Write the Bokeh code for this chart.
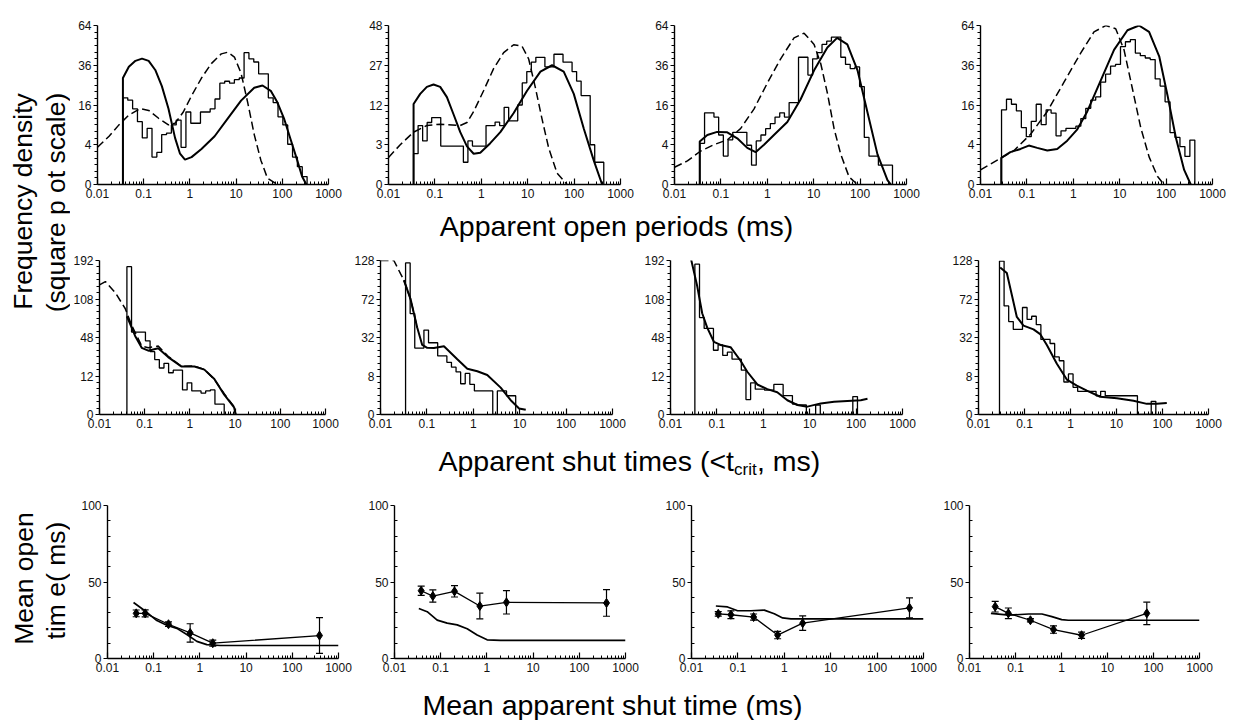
import numpy as np
from bokeh.plotting import figure
from bokeh.layouts import row, column
from bokeh.models import Range1d, FixedTicker, Whisker, TeeHead, ColumnDataSource
from bokeh.embed import file_html
from bokeh.resources import INLINE
from bokeh.core.properties import value

FONT = "Liberation Sans"

# ---------------- tick values ----------------
X_TICKS = [0.01, 0.1, 1, 10, 100, 1000]
X_TICK_LABELS = ["0.01", "0.1", "1", "10", "100", "1000"]
Y_TICKS_64 = [0, 4, 16, 36, 64]
Y_TICKS_48 = [0, 3, 12, 27, 48]
Y_TICKS_192 = [0, 12, 48, 108, 192]
Y_TICKS_128 = [0, 8, 32, 72, 128]
Y_TICKS_100 = [0, 50, 100]

# ---------------- row 1: apparent open periods ----------------
p1_hist_lo, p1_hist_hi = 0.0355, 344
p1_hist = [19, 18, 14.5, 10, 5.5, 8, 1.9, 2.6, 6.3, 6.7, 9, 10.5, 3.5, 13.3, 9.5, 9.5, 13.3, 13.3,
           14.5, 18.5, 26, 27, 26, 27.8, 28.7, 44, 40, 38, 31, 31, 19, 17, 11.6, 9, 4.1, 1.9, 0.8, 0.16]
p1_fit_x = [0.0355, 0.0355, 0.0477, 0.0663, 0.092, 0.128, 0.178, 0.247, 0.343, 0.477, 0.611, 0.782,
            1.086, 1.78, 3.43, 6.63, 12.8, 24.7, 37.3, 56.2, 78.1, 108.6, 151, 210, 268, 332]
p1_fit_y = [0, 28.7, 35.1, 38.7, 40.1, 38.7, 33.2, 24.5, 14.6, 5.5, 2.4, 1.56, 1.9, 3.2, 5.9, 11.1,
            17.8, 23.7, 24.8, 22.2, 17.1, 11.1, 5.2, 1.5, 0.16, 0]
p1_dash_x = [0.01, 0.0178, 0.0291, 0.0477, 0.0849, 0.128, 0.21, 0.343, 0.477, 0.72, 1.086, 1.78,
             2.91, 4.77, 6.63, 9.2, 12.8, 17.8, 24.7, 34.3, 47.7, 78.1]
p1_dash_y = [3.5, 5.9, 9.0, 12.2, 14.6, 13.9, 11.1, 9.0, 9.5, 13.3, 19.9, 28.7, 37, 43.2, 44.3, 41.1,
             31.4, 17.1, 6.3, 1.5, 0.1, 0]

p2_hist_lo, p2_hist_hi = 0.0347, 436
p2_hist = [1.8, 6.6, 3.6, 7.3, 8.5, 8.5, 2.8, 2.8, 2.8, 2.8, 2.8, 0.94, 3.6, 2.8, 2.8, 2.8, 6.6, 6.6,
           7.4, 6.6, 11.3, 7.7, 7.7, 12, 19.6, 24.2, 28.4, 30.7, 30.7, 26.3, 26.3, 32.2, 32.2, 28.4,
           28.4, 24.2, 20.3, 15, 15, 3.0, 0.94, 0.94]
p2_fit_x = [0.0347, 0.0347, 0.0482, 0.0671, 0.0935, 0.130, 0.1815, 0.253, 0.352, 0.491, 0.684, 0.951,
            1.56, 2.57, 4.99, 9.68, 18.8, 33.5, 59.8, 98.4, 162, 266, 402]
p2_fit_y = [0, 12.3, 15.6, 18.1, 19.0, 18.1, 14.5, 9.3, 5.2, 2.76, 1.8, 1.92, 3.24, 5.2, 9.7, 16.7,
            24.2, 27, 24.2, 15.6, 5.9, 1.08, 0]
p2_dash_x = [0.01, 0.0179, 0.0347, 0.0671, 0.130, 0.352, 0.491, 0.684, 1.12, 1.85, 3.03, 4.99, 7.55,
             10.5, 14.6, 20.4, 28.4, 43, 70.6]
p2_dash_y = [1.39, 3.0, 5.2, 6.6, 6.9, 6.6, 7.3, 10.1, 16.7, 25.6, 33, 37.1, 36.3, 29.9, 17.9, 8.1,
             2.5, 0.24, 0]

p3_hist_lo, p3_hist_hi = 0.0352, 499
p3_hist = [4.3, 13, 13, 11.5, 6.2, 2.05, 5.05, 6.9, 6.9, 6.9, 3.9, 0.95, 4.8, 6.2, 7.9, 9.4, 11.5,
           13, 11.5, 17, 17, 41, 41, 30.3, 40, 44, 49.7, 52, 55, 55, 41, 36.5, 34, 35, 24.3, 5.6,
           2.05, 2.05, 0.95, 0.95, 0.95]
p3_fit_x = [0.035, 0.035, 0.051, 0.083, 0.137, 0.225, 0.37, 0.56, 0.85, 1.39, 2.7, 5.2, 10.2, 19.7,
            32, 53, 88, 144, 237, 389, 460]
p3_fit_y = [0, 4.7, 6.2, 7.0, 6.9, 5.4, 3.4, 2.65, 4.0, 6.2, 9.9, 18.3, 33, 47.5, 54.4, 49.7, 33,
            13.2, 2.3, 0.05, 0]
p3_dash_x = [0.01, 0.019, 0.036, 0.07, 0.137, 0.265, 0.515, 1.0, 1.94, 3.77, 6.2, 10.2, 14.2, 19.7,
             27.5, 38.3, 58, 88]
p3_dash_y = [0.75, 1.41, 2.8, 4.0, 5.05, 7.9, 14.4, 26, 40, 54.4, 58, 49.7, 36.9, 21.2, 7.9, 2.3,
             0.14, 0]

p4_hist_lo, p4_hist_hi = 0.0284, 416
p4_hist = [14.1, 18.4, 16.3, 13.7, 8.2, 5.8, 10.1, 16.3, 9.1, 14.1, 12.9, 6.0, 7.3, 8.0, 8.0, 8.6, 11,
           14.7, 18, 19.4, 26.5, 30.8, 35.5, 36.5, 48.1, 51.6, 53.2, 43.7, 42, 40.5, 39.5, 28.2,
           24.5, 17.3, 6.8, 5.6, 3.65, 2.0, 5.0]
p4_fit_x = [0.028, 0.028, 0.044, 0.073, 0.11, 0.167, 0.275, 0.45, 0.74, 1.22, 2.0, 3.89, 7.55, 14.7,
            26, 43, 71, 107, 162, 245, 340]
p4_fit_y = [0, 1.8, 2.66, 3.2, 3.84, 3.4, 2.94, 3.2, 4.86, 7.7, 13.5, 27.3, 45.9, 60.2, 64, 58.9,
            41.6, 20.2, 5.6, 0.54, 0]
p4_dash_x = [0.01, 0.023, 0.053, 0.12, 0.275, 0.63, 1.44, 2.79, 5.0, 8.2, 12.4, 18.8, 28.4, 43, 65,
             90]
p4_dash_y = [0.54, 1.5, 2.94, 6.4, 13.5, 26.5, 43.7, 58.9, 64, 61.4, 45.9, 23.2, 8.2, 1.93, 0.17, 0]

# ---------------- row 2: apparent shut times ----------------
p5_hist_lo, p5_hist_hi = 0.0404, 5.74
p5_hist = [177, 55, 55, 55, 44, 32, 24.4, 17.5, 21.2, 14.1, 15.9, 15.9, 4.9, 8.1, 4.5, 4.5, 3.7,
           4.5, 4.9, 0.87, 0.87]
p5_fit_x = [0.0404, 0.0439, 0.0614, 0.0859, 0.12, 0.199, 0.33, 0.645, 1.26, 2.09, 3.47, 5.74, 9.5,
            10.3]
p5_fit_y = [78, 72, 50, 36, 33, 35.5, 26.7, 18.7, 18.7, 16.3, 10.2, 3.2, 0.42, 0]
p5_dash_x = [0.01, 0.0135, 0.0224, 0.037, 0.0519, 0.0859, 0.12, 0.199, 0.33, 0.645, 1.26, 2.09,
             3.47, 5.74, 9.5, 10.3]
p5_dash_y = [136, 143, 120, 91, 64, 38, 36, 38, 27.5, 18.7, 19, 16.5, 10, 3.5, 0.5, 0]

p6_hist_lo, p6_hist_hi = 0.0347, 8.2
p6_hist = [124, 55, 23.8, 23.8, 38.5, 27.8, 27.8, 18.5, 18.5, 14.7, 12.1, 9.8, 5.1, 9.1, 4.9, 3.0,
           3.0, 3.0, 3.0, 0, 3.0, 3.0, 1.9, 1.9]
p6_fit_x = [0.0319, 0.0444, 0.0618, 0.0793, 0.1016, 0.1416, 0.233, 0.452, 0.743, 1.22, 2.0, 3.89,
            6.4, 9.7, 13.5]
p6_fit_y = [97.5, 71.9, 40.8, 26.1, 24.0, 23.8, 25.2, 16.5, 11.3, 10.1, 8.4, 3.9, 1.1, 0.2, 0.12]
p6_dash_x = [0.01, 0.0194, 0.027, 0.0319, 0.0444, 0.0618]
p6_dash_y = [128, 128, 107, 97.5, 71.9, 40.8]

p7_hist_lo, p7_hist_hi = 0.0335, 107
p7_hist = [183, 76, 60, 60, 33.4, 39.2, 28.3, 31.4, 24.8, 24.8, 15.9, 1.8, 8.1, 5.2, 5.2, 4.8, 4.8,
           7.3, 7.3, 2.9, 2.9, 0.88, 0.73, 0.73, 0, 0, 0.73, 0, 0, 0, 0, 0, 0, 0, 2.6]
p7_fit_x = [0.0279, 0.0377, 0.0482, 0.0618, 0.0861, 0.12, 0.197, 0.324, 0.452, 0.743, 1.22, 2.0,
            3.3, 5.42, 8.9, 17.3, 33.5, 126, 176]
p7_fit_y = [194, 133, 83, 61.2, 42.8, 39.2, 36.7, 23.4, 14.8, 7.3, 5.2, 4.0, 1.64, 0.73, 0.5, 1.0,
            1.3, 1.64, 2.0]

p8_hist_lo, p8_hist_hi = 0.0286, 71.6
p8_hist = [127, 63.6, 46.6, 39.1, 39.1, 61.8, 48.8, 52.1, 43.5, 30.4, 30.4, 27.2, 17.9, 15.6, 5.7,
           8.9, 4.0, 2.9, 2.9, 2.9, 2.9, 1.9, 2.9, 1.9, 1.9, 1.9, 1.9, 1.9, 1.9, 1.9, 0, 0, 0, 0.93]
p8_fit_x = [0.0296, 0.0413, 0.0531, 0.0681, 0.0951, 0.157, 0.219, 0.306, 0.505, 0.832, 1.37, 2.27,
            4.42, 10.2, 23.4, 45.6, 75.3, 124]
p8_fit_y = [116.7, 108, 77.1, 51.4, 42.6, 39.1, 34.9, 26, 13.9, 6.6, 4.5, 3.1, 1.7, 1.43, 1.02, 0.61,
            0.61, 0.72]

# ---------------- row 3: mean open time vs mean shut time ----------------
p9_x = [0.0418, 0.0653, 0.209, 0.615, 1.9, 388]
p9_y = [29.5, 29.5, 22.4, 16.7, 10.0, 15.0]
p9_err = [2.2, 2.3, 1.5, 6, 2, 11.7]
p9_fit_x = [0.0366, 0.0601, 0.117, 0.192, 0.317, 0.521, 0.859, 1.41, 2.75, 1000]
p9_fit_y = [36.6, 31.9, 24.8, 21.7, 19.7, 15.7, 11.2, 9.1, 8.5, 8.5]

p10_x = [0.0378, 0.0676, 0.199, 0.703, 2.65, 388]
p10_y = [44.3, 40.8, 43.9, 34.3, 36.7, 36.3]
p10_err = [3, 4, 3.7, 8.4, 7.6, 8.7]
p10_fit_x = [0.0336, 0.051, 0.0839, 0.138, 0.227, 0.374, 0.615, 1.01, 1.97, 1000]
p10_fit_y = [32.7, 30.6, 25.1, 23.1, 22.0, 19.4, 15.3, 12.2, 11.8, 11.8]

p11_x = [0.0377, 0.0707, 0.218, 0.718, 2.49, 499]
p11_y = [29.2, 28.6, 27.1, 15.3, 23.1, 33.1]
p11_err = [1.5, 2.5, 2, 2.4, 4.7, 6.5]
p11_fit_x = [0.0335, 0.0598, 0.0984, 0.191, 0.37, 0.608, 0.92, 1.39, 1000]
p11_fit_y = [34.3, 33.7, 31.2, 31.2, 31.6, 29.2, 26.5, 25.9, 25.9]

p12_x = [0.0362, 0.07, 0.211, 0.671, 2.73, 71.5]
p12_y = [33.9, 29.5, 25, 18.9, 15.2, 29.5]
p12_err = [3.5, 3.5, 1, 2.4, 2, 7.3]
p12_fit_x = [0.0292, 0.0724, 0.195, 0.376, 0.618, 1.01, 1.41, 1000]
p12_fit_y = [29.5, 28.3, 29.1, 29.1, 27.4, 25.4, 25.0, 25.0]


# ---------------- helpers ----------------
def style_axis(ax):
    ax.axis_line_color = "black"
    ax.axis_line_width = 1.4
    ax.major_tick_line_color = "black"
    ax.major_tick_line_width = 1.2
    ax.minor_tick_line_color = "black"
    ax.minor_tick_line_width = 1.0
    ax.major_label_text_font = FONT
    ax.major_label_text_font_size = "12px"
    ax.major_label_text_color = "#111111"


def base_fig(w, h, left, right, top, bottom, ytop):
    p = figure(width=w, height=h, x_axis_type="log", x_range=Range1d(0.01, 1000),
               y_range=Range1d(0, ytop), output_backend="svg", toolbar_location=None,
               min_border_left=left, min_border_right=right, min_border_top=top,
               min_border_bottom=bottom)
    p.outline_line_color = None
    p.xgrid.visible = False
    p.ygrid.visible = False
    xa = p.xaxis[0]
    xa.ticker = FixedTicker(ticks=X_TICKS,
                            minor_ticks=[m * d for d in X_TICKS[:-1] for m in range(2, 10)])
    xa.major_label_overrides = {float(t): s for t, s in zip(X_TICKS, X_TICK_LABELS)}
    style_axis(xa)
    xa.major_tick_in = 6
    xa.major_tick_out = 0
    xa.minor_tick_in = 3
    xa.minor_tick_out = 0
    xa.major_label_standoff = 4
    ya = p.yaxis[0]
    style_axis(ya)
    ya.major_tick_in = 0
    ya.major_tick_out = 4
    ya.major_label_standoff = 2
    return p


def sqrt_panel(w, h, left, right, top, bottom, yticks, lo, hi, counts, fits):
    p = base_fig(w, h, left, right, top, bottom, float(np.sqrt(yticks[-1])))
    ya = p.yaxis[0]
    st = [float(np.sqrt(v)) for v in yticks]
    nsub = 6
    minor = [a + (b - a) * k / nsub for a, b in zip(st[:-1], st[1:]) for k in range(1, nsub)]
    ya.ticker = FixedTicker(ticks=st, minor_ticks=minor)
    ya.major_label_overrides = {s: str(v) for s, v in zip(st, yticks)}
    ya.minor_tick_in = 0
    ya.minor_tick_out = 3
    edges = np.geomspace(lo, hi, len(counts) + 1)
    xs = np.concatenate([[edges[0]], edges])
    ys = np.sqrt(np.concatenate([[0.0], np.asarray(counts, float), [0.0]]))
    p.step(xs, ys, mode="after", line_color="black", line_width=1.3)
    for fx, fy, dashed in fits:
        p.line(fx, np.sqrt(np.asarray(fy, float)), line_color="black",
               line_width=1.5 if dashed else 2.0, line_dash="8 4" if dashed else "solid")
    return p


def mean_panel(w, h, left, right, top, bottom, px, py, perr, fx, fy):
    p = base_fig(w, h, left, right, top, bottom, 100)
    ya = p.yaxis[0]
    ya.ticker = FixedTicker(ticks=Y_TICKS_100, minor_ticks=[10, 20, 30, 40, 60, 70, 80, 90])
    ya.minor_tick_in = 3
    ya.minor_tick_out = 0
    p.line(fx, fy, line_color="black", line_width=1.7)
    p.line(px, py, line_color="black", line_width=1.3)
    src = ColumnDataSource(dict(x=px, lo=[y - e for y, e in zip(py, perr)],
                                hi=[y + e for y, e in zip(py, perr)]))
    p.add_layout(Whisker(source=src, base="x", lower="lo", upper="hi", dimension="height",
                         line_color="black", line_width=1.2,
                         upper_head=TeeHead(size=7, line_color="black", line_width=1.2),
                         lower_head=TeeHead(size=7, line_color="black", line_width=1.2)))
    p.scatter(px, py, marker="diamond", size=9, color="black")
    return p


def blank_fig(w, h, xr, yr):
    f = figure(width=w, height=h, x_range=xr, y_range=yr, x_axis_location=None,
               y_axis_location=None, output_backend="svg", toolbar_location=None, min_border=0)
    f.outline_line_color = None
    f.grid.visible = False
    return f


# ---------------- panels ----------------
P1 = sqrt_panel(280, 210, 27, 22, 21, 25, Y_TICKS_64, p1_hist_lo, p1_hist_hi, p1_hist,
                [(p1_dash_x, p1_dash_y, True), (p1_fit_x, p1_fit_y, False)])
P2 = sqrt_panel(290, 210, 38, 20, 22, 22, Y_TICKS_48, p2_hist_lo, p2_hist_hi, p2_hist,
                [(p2_dash_x, p2_dash_y, True), (p2_fit_x, p2_fit_y, False)])
P3 = sqrt_panel(305, 210, 34, 39, 21, 26, Y_TICKS_64, p3_hist_lo, p3_hist_hi, p3_hist,
                [(p3_dash_x, p3_dash_y, True), (p3_fit_x, p3_fit_y, False)])
P4 = sqrt_panel(291, 210, 35, 24, 25, 22, Y_TICKS_64, p4_hist_lo, p4_hist_hi, p4_hist,
                [(p4_dash_x, p4_dash_y, True), (p4_fit_x, p4_fit_y, False)])

P5 = sqrt_panel(275, 203, 27, 20, 9, 31, Y_TICKS_192, p5_hist_lo, p5_hist_hi, p5_hist,
                [(p5_dash_x, p5_dash_y, True), (p5_fit_x, p5_fit_y, False)])
P6 = sqrt_panel(295, 203, 35, 28, 17, 23, Y_TICKS_128, p6_hist_lo, p6_hist_hi, p6_hist,
                [(p6_dash_x, p6_dash_y, True), (p6_fit_x, p6_fit_y, False)])
P7 = sqrt_panel(305, 203, 30, 43, 14, 27, Y_TICKS_192, p7_hist_lo, p7_hist_hi, p7_hist,
                [(p7_fit_x, p7_fit_y, False)])
P8 = sqrt_panel(291, 203, 33, 28, 18, 21, Y_TICKS_128, p8_hist_lo, p8_hist_hi, p8_hist,
                [(p8_fit_x, p8_fit_y, False)])

P9 = mean_panel(290, 206, 37, 22, 21, 21, p9_x, p9_y, p9_err, p9_fit_x, p9_fit_y)
P10 = mean_panel(300, 206, 34, 35, 14, 28, p10_x, p10_y, p10_err, p10_fit_x, p10_fit_y)
P11 = mean_panel(280, 206, 31, 17, 14, 28, p11_x, p11_y, p11_err, p11_fit_x, p11_fit_y)
P12 = mean_panel(296, 206, 27, 37, 10, 32, p12_x, p12_y, p12_err, p12_fit_x, p12_fit_y)

# ---------------- text strips ----------------
TXT = dict(text_font=value(FONT), text_color="black", text_baseline="middle")

left = blank_fig(70, 720, Range1d(0, 70), Range1d(0, 720))
left.text(x=[22.5, 55.0, 23.0, 55.5], y=[720 - 201, 720 - 202, 720 - 578, 720 - 580],
          text=["Frequency density", "(square p ot scale)", "Mean open", "tim e( ms)"],
          angle=np.pi / 2, text_align="center", text_font_size="26.5px", **TXT)

s1 = blank_fig(1166, 32, Range1d(70, 1236), Range1d(-242, -210))
s1.text(x=[616], y=[-225], text=["Apparent open periods (ms)"], text_align="center",
        text_font_size="28.5px", **TXT)

s2 = blank_fig(1166, 39, Range1d(70, 1236), Range1d(-484, -445))
s2.text(x=[438], y=[-460], text=["Apparent shut times (<t"], text_align="left",
        text_font_size="28.5px", **TXT)
s2.text(x=[733.5], y=[-469], text=["crit"], text_align="left",
        text_font_size="17px", **TXT)
s2.text(x=[756.5], y=[-460], text=[", ms)"], text_align="left",
        text_font_size="28.5px", **TXT)

s3 = blank_fig(1166, 30, Range1d(70, 1236), Range1d(-720, -690))
s3.text(x=[612], y=[-704], text=["Mean apparent shut time (ms)"], text_align="center",
        text_font_size="28.5px", **TXT)

main = column(row(P1, P2, P3, P4), s1, row(P5, P6, P7, P8), s2, row(P9, P10, P11, P12), s3)
layout = row(left, main)

open("out.html", "w").write(file_html(layout, INLINE))
